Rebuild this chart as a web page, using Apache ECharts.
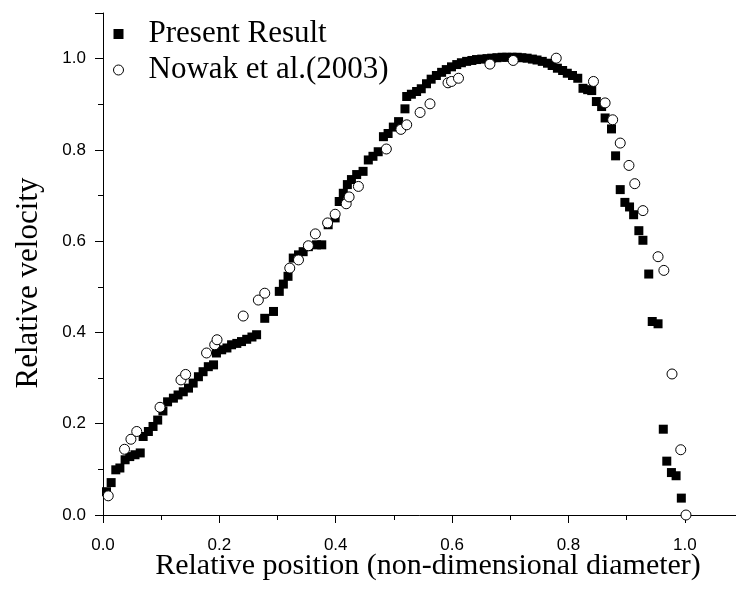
<!DOCTYPE html>
<html>
<head>
<meta charset="utf-8">
<script src="https://cdn.jsdelivr.net/npm/echarts@6/dist/echarts.min.js"></script>
<style>
  html, body { margin: 0; padding: 0; background: #ffffff; }
  #chart { width: 736px; height: 592px; }
</style>
</head>
<body>
<div id="chart"></div>
<script>
// Present Result (filled squares)
const presentX = [0.006,0.014,0.022,0.029,0.038,0.046,0.055,0.064,0.069,0.078,0.086,0.094,0.103,0.111,0.121,0.129,0.138,0.147,0.155,0.164,0.172,0.181,0.190,0.195,0.204,0.213,0.221,0.230,0.238,0.247,0.256,0.264,0.278,0.293,0.303,0.310,0.318,0.327,0.336,0.344,0.353,0.367,0.376,0.387,0.399,0.406,0.413,0.420,0.427,0.436,0.447,0.456,0.464,0.473,0.482,0.490,0.499,0.508,0.519,0.522,0.530,0.539,0.547,0.556,0.564,0.573,0.582,0.590,0.599,0.608,0.616,0.625,0.634,0.642,0.651,0.660,0.668,0.677,0.686,0.694,0.703,0.712,0.720,0.729,0.738,0.746,0.755,0.764,0.772,0.781,0.790,0.798,0.807,0.816,0.825,0.833,0.840,0.848,0.857,0.863,0.874,0.881,0.889,0.897,0.905,0.912,0.921,0.928,0.938,0.944,0.954,0.963,0.969,0.977,0.985,0.994];
const presentY = [0.051,0.071,0.099,0.103,0.121,0.128,0.132,0.136,0.172,0.183,0.194,0.208,0.228,0.248,0.256,0.263,0.270,0.278,0.289,0.303,0.314,0.325,0.329,0.355,0.362,0.366,0.373,0.376,0.380,0.385,0.390,0.395,0.431,0.446,0.490,0.506,0.523,0.563,0.570,0.577,0.588,0.592,0.592,0.636,0.651,0.687,0.705,0.724,0.735,0.746,0.753,0.778,0.786,0.796,0.829,0.836,0.850,0.862,0.890,0.917,0.922,0.928,0.934,0.945,0.955,0.963,0.970,0.976,0.982,0.987,0.991,0.994,0.996,0.998,0.999,1.000,1.001,1.002,1.003,1.003,1.003,1.003,1.002,1.001,0.999,0.997,0.994,0.990,0.985,0.979,0.974,0.968,0.963,0.957,0.935,0.932,0.930,0.906,0.895,0.870,0.846,0.787,0.713,0.685,0.675,0.658,0.623,0.602,0.528,0.424,0.419,0.188,0.118,0.093,0.086,0.037];

// Nowak et al.(2003) (open circles)
const nowakX = [0.009,0.037,0.048,0.058,0.098,0.134,0.142,0.178,0.192,0.196,0.241,0.267,0.278,0.321,0.336,0.353,0.365,0.386,0.399,0.418,0.423,0.439,0.487,0.512,0.522,0.545,0.562,0.593,0.599,0.611,0.665,0.705,0.779,0.843,0.863,0.876,0.889,0.904,0.914,0.928,0.954,0.964,0.978,0.993,1.002];
const nowakY = [0.042,0.144,0.166,0.183,0.236,0.296,0.308,0.355,0.373,0.384,0.436,0.471,0.486,0.541,0.559,0.590,0.616,0.640,0.659,0.682,0.697,0.720,0.802,0.845,0.855,0.882,0.901,0.947,0.950,0.957,0.988,0.996,1.001,0.950,0.903,0.866,0.815,0.766,0.726,0.667,0.566,0.536,0.309,0.143,0.000];

const seriesNames = ['Present Result', 'Nowak et al.(2003)'];
const xTitle = 'Relative position (non-dimensional diameter)';
const yTitle = 'Relative velocity';

const zip = (a, b) => a.map((v, i) => [v, b[i]]);

const chart = echarts.init(document.getElementById('chart'), null, { renderer: 'canvas' });

const axisCommon = {
  type: 'value',
  min: 0,
  max: 1.1,
  interval: 0.2,
  splitLine: { show: false },
  axisLine: { show: true, onZero: false, lineStyle: { color: '#000', width: 1 } },
  axisTick: { show: true, inside: false, length: 8, lineStyle: { color: '#000', width: 1 } },
  minorTick: { show: true, splitNumber: 2, length: 5, lineStyle: { color: '#000', width: 1 } },
  minorSplitLine: { show: false }
};

chart.setOption({
  backgroundColor: '#ffffff',
  animation: false,
  grid: { left: 103, top: 13, width: 640, height: 502, outerBoundsMode: 'none', containLabel: false },
  xAxis: Object.assign({}, axisCommon, {
    axisLabel: {
      show: true, margin: 22, color: '#000',
      fontFamily: 'Liberation Sans', fontSize: 17,
      showMaxLabel: false,
      formatter: v => v.toFixed(1)
    }
  }),
  yAxis: Object.assign({}, axisCommon, {
    axisLabel: {
      show: true, margin: 17, color: '#000',
      fontFamily: 'Liberation Sans', fontSize: 17,
      showMaxLabel: false,
      formatter: v => v.toFixed(1)
    }
  }),
  legend: {
    show: true,
    orient: 'vertical',
    left: 113,
    top: 17,
    padding: 0,
    itemWidth: 10,
    itemHeight: 10,
    itemGap: 2,
    data: [
      { name: seriesNames[0], icon: 'rect', itemStyle: { color: '#000', opacity: 1 } },
      { name: seriesNames[1], icon: 'circle', itemStyle: { color: '#fff', borderColor: '#000', borderWidth: 1, opacity: 1 } }
    ],
    textStyle: {
      color: '#000', fontFamily: 'Liberation Serif', fontSize: 31,
      lineHeight: 34, padding: [0, 0, 0, 20]
    }
  },
  graphic: [
    {
      type: 'text', x: 428, y: 566,
      style: { text: xTitle, fill: '#000', font: '30px "Liberation Serif"', textAlign: 'center', textVerticalAlign: 'middle' }
    },
    {
      type: 'text', rotation: Math.PI / 2,
      x: 29, y: 283,
      style: { text: yTitle, fill: '#000', font: '31px "Liberation Serif"', textAlign: 'center', textVerticalAlign: 'middle' }
    }
  ],
  series: [
    {
      name: seriesNames[0],
      type: 'scatter',
      symbol: 'rect',
      symbolSize: 9,
      itemStyle: { color: '#000', opacity: 1 },
      data: zip(presentX, presentY),
      z: 2
    },
    {
      name: seriesNames[1],
      type: 'scatter',
      symbol: 'circle',
      symbolSize: 10,
      itemStyle: { color: '#fff', borderColor: '#000', borderWidth: 1, opacity: 1 },
      data: zip(nowakX, nowakY),
      z: 3
    }
  ]
});
</script>
</body>
</html>
